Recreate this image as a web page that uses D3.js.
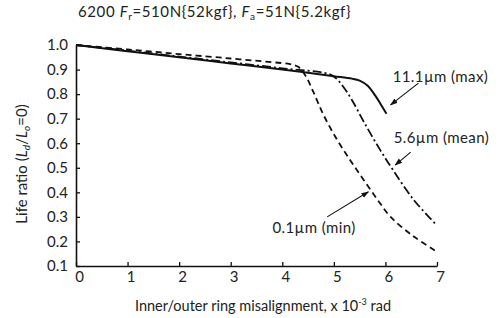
<!DOCTYPE html>
<html>
<head>
<meta charset="utf-8">
<script src="https://cdnjs.cloudflare.com/ajax/libs/d3/7.8.5/d3.min.js"></script>
<style>
  body { margin: 0; background: #fff; }
  text { font-family: Lato, "Open Sans", sans-serif; fill: #222; }
</style>
</head>
<body>
<div id="chart"></div>
<script>
// data
var xTicks = [0, 1, 2, 3, 4, 5, 6, 7];
var yTicks = [0.1, 0.2, 0.3, 0.4, 0.5, 0.6, 0.7, 0.8, 0.9, 1.0];

var maxX = [0, 1, 2, 3, 4, 5, 5.35, 5.5, 5.65, 5.8, 5.92, 6.02];
var maxY = [1.0, 0.975, 0.95, 0.925, 0.9, 0.873, 0.863, 0.855, 0.835, 0.795, 0.755, 0.72];

var meanX = [0, 1, 2, 3, 4, 4.9, 5.05, 5.2, 5.35, 5.6, 5.9, 6.15, 6.55, 7.0];
var meanY = [1.0, 0.977, 0.953, 0.929, 0.905, 0.882, 0.863, 0.825, 0.776, 0.68, 0.572, 0.49, 0.369, 0.265];

var minX = [0, 1, 2, 3, 3.8, 4.15, 4.3, 4.45, 4.6, 4.8, 5.06, 5.32, 5.58, 5.84, 6.1, 6.55, 7.0];
var minY = [1.0, 0.982, 0.963, 0.945, 0.93, 0.922, 0.912, 0.875, 0.81, 0.715, 0.615, 0.53, 0.45, 0.372, 0.30, 0.22, 0.158];

var labels = ["11.1\u00b5m (max)", "5.6\u00b5m (mean)", "0.1\u00b5m (min)"];
// label anchor (x, y) and arrow tail -> head, in data units
var labelAt = [[6.14, 0.849], [6.16, 0.60], [3.81, 0.234]];
var arrowFrom = [[6.64, 0.845], [6.49, 0.564], [4.87, 0.30]];
var arrowTo = [[6.10, 0.756], [6.19, 0.511], [5.67, 0.402]];

var w = 500, h = 318;
var svg = d3.select("#chart").append("svg")
    .attr("width", w)
    .attr("height", h);

var xScale = d3.scaleLinear()
    .domain([0, 7])
    .range([76, 437]);

var yScale = d3.scaleLinear()
    .domain([0.1, 1.0])
    .range([266, 45]);

//AXES
var xAxis = d3.axisBottom(xScale).tickValues(xTicks).tickFormat(d3.format("d"))
    .tickSizeInner(-4).tickSizeOuter(0).tickPadding(5);
var yAxis = d3.axisLeft(yScale).tickValues(yTicks).tickFormat(d3.format(".1f"))
    .tickSizeInner(-4).tickSizeOuter(0).tickPadding(8);

var gx = svg.append("g")
    .attr("transform", "translate(0," + yScale(0.1) + ")")
    .call(xAxis);
var gy = svg.append("g")
    .attr("transform", "translate(" + xScale(0) + ",0)")
    .call(yAxis);

[gx, gy].forEach(function (g) {
    g.select(".domain").attr("stroke", "#111").attr("stroke-width", 1.6);
    g.selectAll(".tick line").attr("stroke", "#111").attr("stroke-width", 1.3);
    g.selectAll(".tick text").style("font-size", "15px").attr("fill", "#222");
});
gx.selectAll(".tick text").attr("dx", 3);

//CURVES
var line = d3.line().curve(d3.curveCatmullRom.alpha(0.5))
    .x(function (d) { return xScale(d[0]); })
    .y(function (d) { return yScale(d[1]); });

var series = [
    { xs: maxX, ys: maxY, dash: null, width: 2 },
    { xs: meanX, ys: meanY, dash: "9,3,2,3", width: 1.8 },
    { xs: minX, ys: minY, dash: "6,4", width: 1.8 }
];
series.forEach(function (s) {
    svg.append("path")
        .attr("d", line(s.xs.map(function (x, i) { return [x, s.ys[i]]; })))
        .attr("fill", "none")
        .attr("stroke", "#111")
        .attr("stroke-width", s.width)
        .attr("stroke-dasharray", s.dash);
});

//ANNOTATIONS
svg.append("defs").append("marker")
    .attr("id", "arr")
    .attr("viewBox", "0 0 10 10")
    .attr("refX", 9).attr("refY", 5)
    .attr("markerWidth", 7).attr("markerHeight", 7)
    .attr("orient", "auto")
    .append("path")
    .attr("d", "M0,1.5 L10,5 L0,8.5 Z")
    .attr("fill", "#111");

labels.forEach(function (t, i) {
    svg.append("text")
        .attr("x", xScale(labelAt[i][0]))
        .attr("y", yScale(labelAt[i][1]))
        .style("font-size", "15px")
        .style("letter-spacing", "0.4px")
        .text(t);
    svg.append("line")
        .attr("x1", xScale(arrowFrom[i][0])).attr("y1", yScale(arrowFrom[i][1]))
        .attr("x2", xScale(arrowTo[i][0])).attr("y2", yScale(arrowTo[i][1]))
        .attr("stroke", "#111")
        .attr("stroke-width", 1.1)
        .attr("marker-end", "url(#arr)");
});

//TITLE + AXIS LABELS
var title = svg.append("text")
    .attr("x", 78).attr("y", 17)
    .style("font-size", "15px")
    .style("letter-spacing", "0.6px");
title.append("tspan").text("6200 ");
title.append("tspan").style("font-style", "italic").text("F");
title.append("tspan").attr("dy", 3).style("font-size", "10px").text("r");
title.append("tspan").attr("dy", -3).text("=510N{52kgf}, ");
title.append("tspan").style("font-style", "italic").text("F");
title.append("tspan").attr("dy", 3).style("font-size", "10px").text("a");
title.append("tspan").attr("dy", -3).text("=51N{5.2kgf}");

var xl = svg.append("text")
    .attr("x", 263).attr("y", 311)
    .attr("text-anchor", "middle")
    .style("font-size", "14.5px");
xl.append("tspan").text("Inner/outer ring misalignment, x 10");
xl.append("tspan").attr("dy", -6).style("font-size", "9px").text("-3");
xl.append("tspan").attr("dy", 6).text(" rad");

var yl = svg.append("text")
    .attr("transform", "translate(27,164) rotate(-90)")
    .attr("text-anchor", "middle")
    .style("font-size", "15px");
yl.append("tspan").text("Life ratio (");
yl.append("tspan").style("font-style", "italic").text("L");
yl.append("tspan").attr("dy", 3).style("font-size", "10px").style("font-style", "italic").text("d");
yl.append("tspan").attr("dy", -3).text("/");
yl.append("tspan").style("font-style", "italic").text("L");
yl.append("tspan").attr("dy", 3).style("font-size", "10px").style("font-style", "italic").text("o");
yl.append("tspan").attr("dy", -3).text("=0)");
</script>
</body>
</html>
